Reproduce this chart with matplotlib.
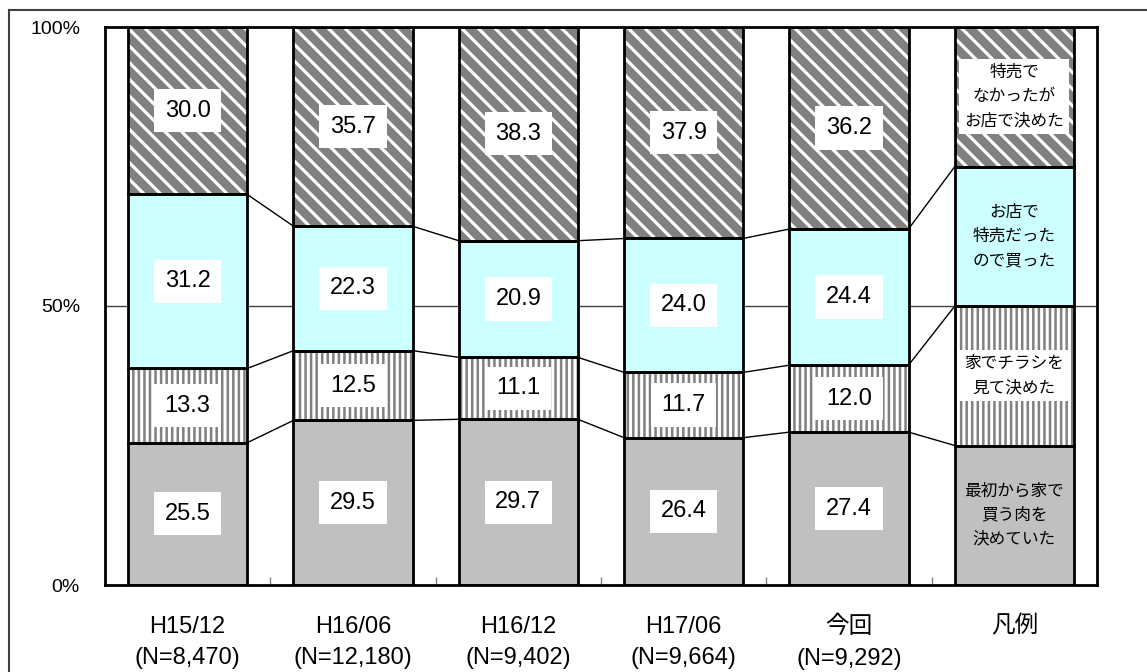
import matplotlib
matplotlib.use('Agg')
import matplotlib.pyplot as plt
from matplotlib.lines import Line2D
import numpy as np

plt.rcParams['font.family'] = ['Liberation Sans', 'Noto Sans CJK JP', 'DejaVu Sans']

# 調査回ごとの構成比 (%)
periods = ['H15/12', 'H16/06', 'H16/12', 'H17/06', '今回', '凡例']
counts = ['(N=8,470)', '(N=12,180)', '(N=9,402)', '(N=9,664)', '(N=9,292)', '']
decided_home = [25.5, 29.5, 29.7, 26.4, 27.4, 25]
flyer = [13.3, 12.5, 11.1, 11.7, 12.0, 25]
store_sale = [31.2, 22.3, 20.9, 24.0, 24.4, 25]
store_other = [30.0, 35.7, 38.3, 37.9, 36.2, 25]
legend_names = ['最初から家で\n買う肉を\n決めていた', '家でチラシを\n見て決めた',
                'お店で\n特売だった\nので買った', '特売で\nなかったが\nお店で決めた']

series = [decided_home, flyer, store_sale, store_other]
faces = ['#c0c0c0', '#808080', '#ccffff', '#808080']
hatches = [None, '|||', None, '\\\\']
hatch_lw = [1.0, 2.2, 1.0, 2.3]

fig = plt.figure(figsize=(11.47, 6.72), dpi=100)
ax = fig.add_axes([105 / 1147, 1 - 585 / 672, (1097 - 105) / 1147, (585 - 27) / 672])

x = np.arange(len(periods))
width = 0.72
n_data = len(periods) - 1
bottom = np.zeros(len(periods))
tops = []
for vals, fc, h, hlw in zip(series, faces, hatches, hatch_lw):
    vals = np.array(vals)
    if h:
        bars = ax.bar(x, vals, width, bottom=bottom, color=fc, edgecolor='white',
                      hatch=h, linewidth=0, zorder=2)
        for b in bars:
            if hasattr(b, 'set_hatch_linewidth'):
                b.set_hatch_linewidth(hlw)
    else:
        ax.bar(x, vals, width, bottom=bottom, color=fc, linewidth=0, zorder=2)
    ax.bar(x, vals, width, bottom=bottom, fill=False, edgecolor='black',
           linewidth=2, zorder=3)
    mids = bottom + vals / 2
    for i in range(n_data):
        ax.text(x[i], mids[i], f'{vals[i]:.1f}', ha='center', va='center',
                fontsize=17, zorder=5,
                bbox=dict(boxstyle='square,pad=0.45', fc='white', ec='none'))
    bottom = bottom + vals
    tops.append(bottom.copy())

# 凡例列のラベル
leg_mid = np.array([12.5, 37.5, 62.5, 87.5])
for k, (name, y) in enumerate(zip(legend_names, leg_mid)):
    box = dict(boxstyle='square,pad=0.3', fc='white', ec='none') if k in (1, 3) else None
    ax.text(x[-1], y, name, ha='center', va='center', fontsize=12,
            linespacing=1.55, family=['Noto Sans CJK JP'], zorder=5, bbox=box)

# 区分の境界をつなぐ線
for lev in tops[:-1]:
    for i in range(len(periods) - 1):
        ax.add_line(Line2D([x[i] + width / 2, x[i + 1] - width / 2], [lev[i], lev[i + 1]],
                           color='black', linewidth=1, zorder=1))

ax.axhline(50, color='#404040', linewidth=1, zorder=0)
ax.set_xlim(-0.5, len(periods) - 0.5)
ax.set_ylim(0, 100)
ax.set_yticks([0, 50, 100])
ax.set_yticklabels(['0%', '50%', '100%'], fontsize=14)
ax.tick_params(axis='y', length=0, pad=18)
ax.set_xticks(x)
ax.set_xticklabels([f'{p}\n{c}' for p, c in zip(periods, counts)], fontsize=17,
                   linespacing=1.58, va='top')
ax.tick_params(axis='x', which='major', length=0, pad=22)
ax.set_xticks(x[:-1] + 0.5, minor=True)
ax.tick_params(axis='x', which='minor', direction='in', length=6, width=1, color='#808080')
for s in ax.spines.values():
    s.set_linewidth(2)

# 外枠
fig.add_artist(Line2D([9 / 1147, 9 / 1147], [0, 1 - 10 / 672], color='#404040', linewidth=1.5))
fig.add_artist(Line2D([9 / 1147, 1], [1 - 10 / 672, 1 - 10 / 672], color='#404040', linewidth=1.5))

fig.savefig('out.png', dpi=100)
